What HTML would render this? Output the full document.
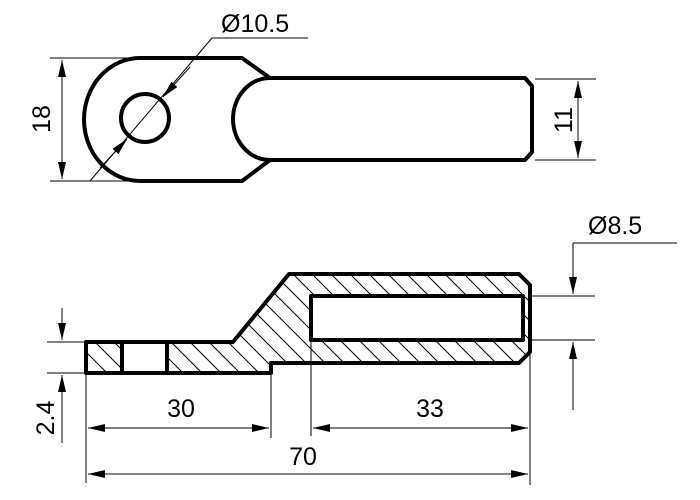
<!DOCTYPE html>
<html><head><meta charset="utf-8"><style>
html,body{margin:0;padding:0;background:#fff;}
svg{display:block;}
text{font-family:"Liberation Sans",sans-serif;font-size:25px;fill:#000;}
</style></head><body>
<svg width="700" height="500" viewBox="0 0 700 500" xmlns="http://www.w3.org/2000/svg">
<defs>
<pattern id="h" patternUnits="userSpaceOnUse" width="19" height="19">
<path d="M-2,-2 L21,21 M-2,17 L2,21 M17,-2 L21,2" stroke="#000" stroke-width="1"/>
</pattern>
<marker id="a" viewBox="0 0 17 8" refX="17" refY="4" markerWidth="17" markerHeight="8" markerUnits="userSpaceOnUse" orient="auto">
<path d="M0,0 L17,4 L0,8 Z" fill="#000"/>
</marker>
</defs>

<g fill="none" stroke="#000" stroke-width="4" stroke-linejoin="round">
<path d="M140,58 L242,58 L270,78 L525,78 L532,86 L532,152 L525,160 L270,160 L242,181 L140,181 A56,61.5 0 0 1 140,58 Z"/>
<path d="M270,78 A37,41 0 0 0 270,160"/>
<circle cx="145" cy="118" r="24"/>
</g>
<g stroke="#000" stroke-width="1" fill="none">
<line x1="50" y1="58" x2="140" y2="58"/>
<line x1="50" y1="181" x2="140" y2="181"/>
<line x1="62" y1="118" x2="62" y2="60" marker-end="url(#a)"/>
<line x1="62" y1="118" x2="62" y2="179" marker-end="url(#a)"/>
<line x1="90" y1="181" x2="212" y2="38"/>
<line x1="212" y1="38" x2="308" y2="38"/>
<line x1="190" y1="67" x2="163" y2="97" marker-end="url(#a)"/>
<line x1="100" y1="168" x2="127" y2="139" marker-end="url(#a)"/>
<line x1="535" y1="79" x2="596" y2="79"/>
<line x1="535" y1="160" x2="596" y2="160"/>
<line x1="578" y1="120" x2="578" y2="81" marker-end="url(#a)"/>
<line x1="578" y1="120" x2="578" y2="158" marker-end="url(#a)"/>
</g>
<text x="221" y="32">Ø10.5</text>
<text transform="translate(50,119) rotate(-90)" text-anchor="middle">18</text>
<text transform="translate(572,120) rotate(-90)" text-anchor="middle">11</text>

<path d="M86,342 L233,342 L289,274 L519,274 L530,285 L530,352 L519,363 L271,363 L271,373 L86,373 Z" fill="url(#h)" stroke="none"/>
<rect x="122" y="342" width="45" height="31" fill="#fff"/>
<rect x="311" y="296" width="212" height="44" fill="#fff"/>
<g fill="none" stroke="#000" stroke-width="4" stroke-linejoin="round">
<path d="M86,342 L233,342 L289,274 L519,274 L530,285 L530,352 L519,363 L271,363 L271,373 L86,373 Z"/>
<line x1="122" y1="342" x2="122" y2="373"/>
<line x1="167" y1="342" x2="167" y2="373"/>
<rect x="311" y="296" width="212" height="44"/>
</g>
<g stroke="#000" stroke-width="1" fill="none">
<line x1="530" y1="296" x2="595" y2="296"/>
<line x1="530" y1="340" x2="595" y2="340"/>
<line x1="573" y1="243" x2="677" y2="243"/>
<line x1="573" y1="243" x2="573" y2="294" marker-end="url(#a)"/>
<line x1="573" y1="410" x2="573" y2="342" marker-end="url(#a)"/>
<line x1="47" y1="342" x2="86" y2="342"/>
<line x1="47" y1="373" x2="86" y2="373"/>
<line x1="62" y1="308" x2="62" y2="340" marker-end="url(#a)"/>
<line x1="62" y1="443" x2="62" y2="375" marker-end="url(#a)"/>
<line x1="86" y1="373" x2="86" y2="483"/>
<line x1="271" y1="363" x2="271" y2="438"/>
<line x1="311" y1="340" x2="311" y2="436"/>
<line x1="530" y1="352" x2="530" y2="485"/>
<line x1="178" y1="428" x2="88" y2="428" marker-end="url(#a)"/>
<line x1="178" y1="428" x2="269" y2="428" marker-end="url(#a)"/>
<line x1="420" y1="428" x2="313" y2="428" marker-end="url(#a)"/>
<line x1="420" y1="428" x2="528" y2="428" marker-end="url(#a)"/>
<line x1="300" y1="474" x2="88" y2="474" marker-end="url(#a)"/>
<line x1="300" y1="474" x2="528" y2="474" marker-end="url(#a)"/>
</g>
<text x="588" y="234">Ø8.5</text>
<text x="181" y="417" text-anchor="middle">30</text>
<text x="430" y="417" text-anchor="middle">33</text>
<text x="303" y="465" text-anchor="middle">70</text>
<text transform="translate(54,418) rotate(-90)" text-anchor="middle">2.4</text>
</svg>
</body></html>
